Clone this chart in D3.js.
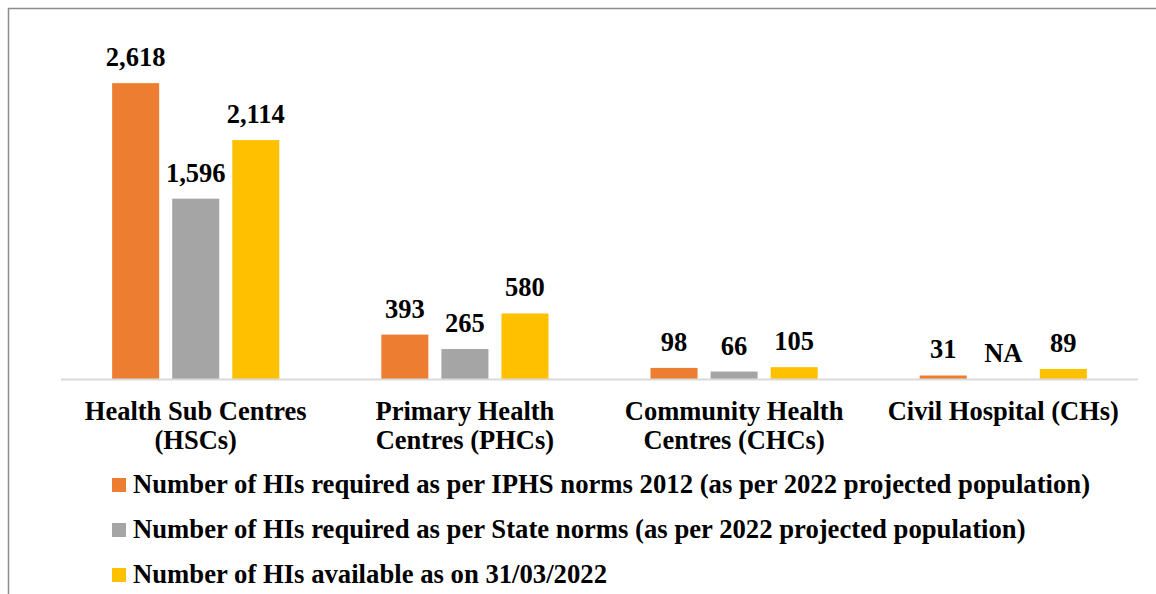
<html>
<head>
<script src="https://d3js.org/d3.v7.min.js"></script>
<style>
  body { margin: 0; background: white; }
</style>
</head>
<body>
<svg width="1156" height="594"></svg>
<script>
  var width = 1156, height = 594;
  var FONT = "'Liberation Serif'";

  // data
  var categories = ["HSCs", "PHCs", "CHCs", "CHs"];
  var categoryLines = [
    ["Health Sub Centres", "(HSCs)"],
    ["Primary Health", "Centres (PHCs)"],
    ["Community Health", "Centres (CHCs)"],
    ["Civil Hospital (CHs)"]
  ];
  var seriesNames = [
    "Number of HIs required as per IPHS norms 2012 (as per 2022 projected population)",
    "Number of HIs required as per State norms (as per 2022 projected population)",
    "Number of HIs available as on 31/03/2022"
  ];
  var iphsValues = [2618, 393, 98, 31];
  var stateValues = [1596, 265, 66, null];
  var availableValues = [2114, 580, 105, 89];
  var colors = ["#ED7D31", "#A5A5A5", "#FFC000"];

  var seriesValues = [iphsValues, stateValues, availableValues];
  var fmt = d3.format(",");

  var svg = d3.select("svg");

  // outer frame (only top and left are visible in the picture)
  svg.append("path")
    .attr("d", "M 8.5 594 V 8.5 H 1156")
    .attr("fill", "none")
    .attr("stroke", "#8c8c8c")
    .attr("stroke-width", 1.5);

  var x0 = d3.scaleBand().domain(categories).range([61, 1138]).paddingInner(0.379).paddingOuter(0.19);
  var x1 = d3.scaleBand().domain(d3.range(3)).range([0, x0.bandwidth()]).paddingInner(0.217);
  var y = d3.scaleLinear().domain([0, 3000]).range([379, 40]);

  var cells = [];
  categories.forEach(function(c, i) {
    seriesValues.forEach(function(vals, s) {
      cells.push({cat: c, s: s, v: vals[i]});
    });
  });

  svg.append("g").selectAll("rect").data(cells.filter(d => d.v != null)).enter()
    .append("rect")
    .attr("x", d => x0(d.cat) + x1(d.s))
    .attr("y", d => y(d.v))
    .attr("width", x1.bandwidth())
    .attr("height", d => y(0) - y(d.v))
    .attr("fill", d => colors[d.s]);

  // baseline
  svg.append("line")
    .attr("x1", 61).attr("x2", 1138)
    .attr("y1", y(0) + 0.5).attr("y2", y(0) + 0.5)
    .attr("stroke", "#d9d9d9").attr("stroke-width", 2);

  // data labels
  svg.append("g").selectAll("text").data(cells).enter()
    .append("text")
    .attr("x", d => x0(d.cat) + x1(d.s) + x1.bandwidth() / 2)
    .attr("y", d => y(d.v == null ? 0 : d.v) - 17)
    .attr("text-anchor", "middle")
    .attr("font-family", FONT).attr("font-weight", "bold")
    .attr("font-size", 26.5)
    .text(d => d.v == null ? "NA" : fmt(d.v));

  // category labels
  var cl = svg.append("g").selectAll("text").data(categories).enter()
    .append("text")
    .attr("x", d => x0(d) + x0.bandwidth() / 2)
    .attr("y", 420)
    .attr("text-anchor", "middle")
    .attr("font-family", FONT).attr("font-weight", "bold")
    .attr("font-size", 26.5);
  cl.each(function(d, i) {
    var t = d3.select(this);
    categoryLines[i].forEach(function(line, k) {
      t.append("tspan")
        .attr("x", x0(d) + x0.bandwidth() / 2)
        .attr("dy", k == 0 ? 0 : 29)
        .text(line);
    });
  });

  // legend
  var lg = svg.append("g").selectAll("g").data(seriesNames).enter()
    .append("g")
    .attr("transform", (d, i) => "translate(112," + [478, 523, 568][i] + ")");
  lg.append("rect")
    .attr("width", 14).attr("height", 14)
    .attr("fill", (d, i) => colors[i]);
  lg.append("text")
    .attr("x", 21).attr("y", 15)
    .attr("font-family", FONT).attr("font-weight", "bold")
    .attr("font-size", 26.7)
    .text(d => d);
</script>
</body>
</html>
